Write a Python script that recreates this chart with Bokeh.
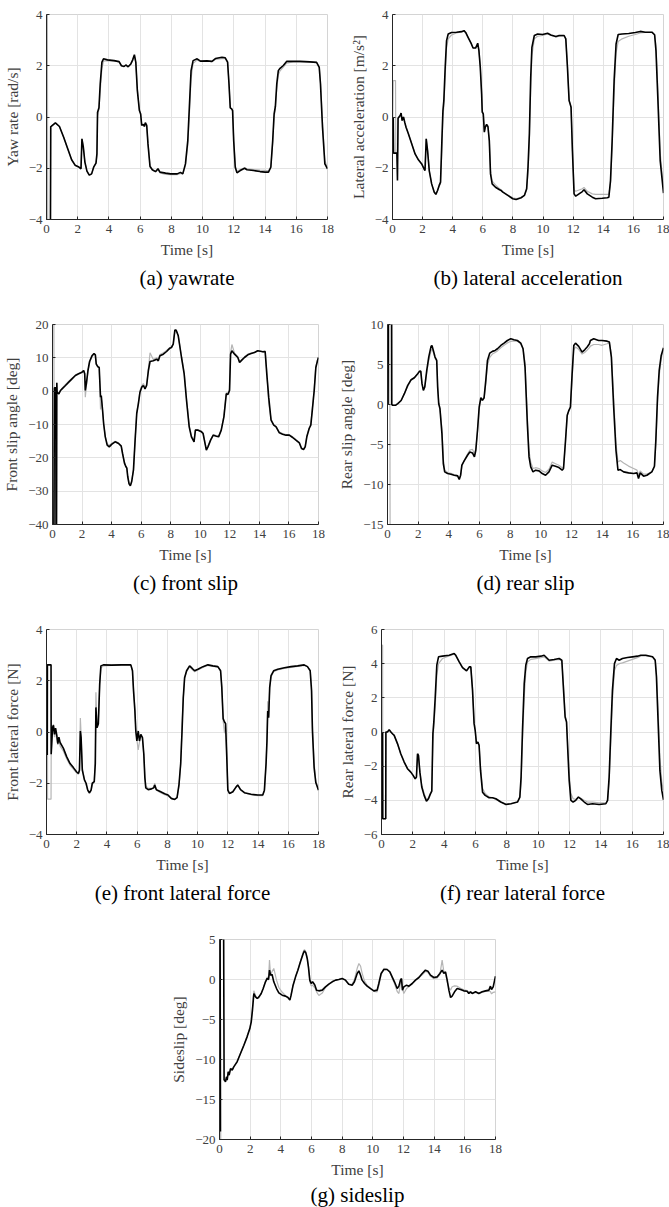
from bokeh.plotting import figure
from bokeh.layouts import column, row
from bokeh.models import Title, Range1d
from bokeh.embed import file_html
from bokeh.resources import INLINE

nan = float("nan")

TIME_TICKS = [0, 2, 4, 6, 8, 10, 12, 14, 16, 18]

# ---------------- (a) yaw rate [rad/s] ----------------
YAW_T = [0.0, 0.05, 0.08, 0.25, 0.27,
         0.30, 0.57, 0.83, 1.10, 1.36, 1.61, 1.83, 2.04, 2.21, 2.27,
         2.36, 2.46, 2.59, 2.74, 2.89, 3.02, 3.17, 3.23, 3.27, 3.36,
         3.44, 3.55, 3.65, 3.91, 4.33, 4.65, 4.80, 4.97, 5.08, 5.23,
         5.40, 5.52, 5.63, 5.72, 5.82, 5.95, 6.03, 6.10, 6.20, 6.27,
         6.33, 6.42, 6.50, 6.63, 6.78, 6.99, 7.14, 7.27, 7.63, 7.95,
         8.37, 8.58, 8.73, 8.90, 9.05, 9.16, 9.26, 9.39, 9.65, 9.86,
         10.28, 10.60, 10.82, 11.24, 11.45, 11.60, 11.69, 11.77, 11.86, 11.92,
         11.99, 12.09, 12.20, 12.41, 12.69, 12.84, 13.26, 13.68, 14.00, 14.22,
         14.37, 14.49, 14.58, 14.66, 14.75, 14.85, 14.96, 15.17, 15.38, 15.81,
         16.23, 16.87, 17.30, 17.47, 17.55, 17.68, 17.83, 18.0]
YAW_EST = [nan, nan, nan, -5.0, -0.37,
           -0.37, -0.23, -0.37, -0.79, -1.24, -1.67, -1.88, -1.94, -2.02, -0.85,
           -1.18, -1.76, -2.11, -2.27, -2.22, -1.96, -1.80, -1.44, 0.19, 0.36,
           1.29, 2.14, 2.27, 2.23, 2.20, 2.16, 2.00, 1.97, 2.03, 1.96,
           2.07, 2.23, 2.43, 2.14, 1.03, 0.25, 0.12, -0.33, -0.29, -0.37,
           -0.22, -0.33, -1.05, -1.93, -2.06, -2.13, -2.02, -2.15, -2.19, -2.22,
           -2.22, -2.16, -2.22, -1.83, -0.92, 0.51, 1.81, 2.20, 2.27, 2.18,
           2.19, 2.17, 2.28, 2.33, 2.31, 2.14, 1.29, 0.36, 0.32, 0.25,
           -0.92, -1.96, -2.18, -2.09, -2.00, -2.06, -2.09, -2.13, -2.15, -2.15,
           -1.96, -0.92, 0.12, 0.41, 1.29, 1.81, 1.90, 2.01, 2.17, 2.17,
           2.17, 2.15, 2.13, 1.94, 1.29, -0.40, -1.83, -2.02]
YAW_REF = [nan, 5.0, -5.0, -5.0, -0.37,
           -0.37, -0.23, -0.37, -0.79, -1.24, -1.67, -1.88, -1.94, -2.02, -0.85,
           -1.18, -1.76, -2.11, -2.27, -2.22, -1.96, -1.80, -1.50, 0.05, 0.30,
           1.00, 1.90, 2.18, 2.20, 2.18, 2.15, 2.00, 1.97, 2.02, 1.97,
           2.06, 2.20, 2.38, 2.12, 1.10, 0.30, 0.12, -0.30, -0.30, -0.37,
           -0.25, -0.35, -1.00, -1.88, -2.08, -2.15, -2.06, -2.18, -2.24, -2.25,
           -2.25, -2.20, -2.22, -1.90, -1.10, 0.20, 1.50, 2.10, 2.22, 2.17,
           2.18, 2.16, 2.25, 2.28, 2.28, 2.14, 1.35, 0.36, 0.32, 0.25,
           -0.85, -1.90, -2.12, -2.05, -1.98, -2.02, -2.05, -2.07, -2.08, -2.10,
           -1.95, -1.00, 0.00, 0.30, 1.10, 1.65, 1.80, 1.95, 2.10, 2.15,
           2.16, 2.15, 2.13, 1.96, 1.40, -0.20, -1.70, -2.00]

# ---------------- (b) lateral acceleration [m/s^2] ----------------
ACC_T = [0.02, 0.05, 0.07, 0.20, 0.22, 0.29, 0.33, 0.37,
         0.51, 0.57, 0.64, 0.73, 0.81, 0.90, 1.06, 1.28, 1.50, 1.72,
         1.94, 2.09, 2.16, 2.24, 2.33, 2.44, 2.60, 2.77, 2.88, 2.99,
         3.10, 3.19, 3.28, 3.35, 3.41, 3.50, 3.59, 3.70, 3.92, 4.25,
         4.58, 4.75, 4.86, 5.02, 5.24, 5.35, 5.52, 5.66, 5.74, 5.83,
         5.92, 5.96, 6.03, 6.10, 6.16, 6.25, 6.34, 6.43, 6.51, 6.62,
         6.84, 7.11, 7.22, 7.33, 7.66, 7.99, 8.21, 8.54, 8.76, 8.91,
         9.00, 9.09, 9.18, 9.26, 9.42, 9.64, 9.97, 10.30, 10.52, 10.85,
         11.07, 11.40, 11.51, 11.62, 11.73, 11.80, 11.86, 11.95, 12.06, 12.17,
         12.39, 12.61, 12.72, 12.94, 13.27, 13.49, 13.93, 14.26, 14.37, 14.48,
         14.59, 14.72, 14.85, 14.99, 15.25, 15.69, 16.13, 16.46, 16.79, 17.23,
         17.41, 17.50, 17.63, 17.78, 18.00]
ACC_EST = [nan, 0.0, -1.41, -1.41, -1.41, -1.41, -2.48, -0.05,
           0.06, 0.15, -0.14, 0.0, -0.2, -0.4, -0.66, -1.05, -1.44, -1.67,
           -1.83, -2.02, -2.09, -0.85, -1.31, -2.09, -2.61, -2.93, -3.02, -2.87,
           -2.67, -2.54, -0.92, 0.25, 0.64, 1.94, 2.98, 3.24, 3.30, 3.31,
           3.33, 3.37, 3.30, 3.11, 2.85, 2.69, 2.69, 2.88, 2.59, 1.94,
           0.90, 0.19, 0.12, -0.59, -0.40, -0.29, -0.37, -0.92, -2.22, -2.61,
           -2.74, -2.84, -2.87, -2.93, -3.06, -3.19, -3.22, -3.15, -3.06, -2.80,
           -1.96, -0.66, 1.55, 2.72, 3.18, 3.24, 3.22, 3.27, 3.20, 3.14,
           3.18, 3.18, 3.05, 1.94, 0.64, 0.51, 0.38, -1.31, -3.00, -3.09,
           -3.00, -2.91, -2.84, -3.00, -3.13, -3.19, -3.17, -3.15, -3.13, -2.48,
           -0.92, 1.42, 2.85, 3.22, 3.24, 3.26, 3.30, 3.34, 3.31, 3.31,
           3.21, 2.59, 0.64, -1.70, -2.97]
ACC_REF = [0.0, 1.42, 1.42, 1.42, -1.41, -1.41, -1.41, -0.05,
           0.06, 0.15, -0.14, 0.0, -0.2, -0.4, -0.66, -1.05, -1.44, -1.67,
           -1.83, -2.02, -2.09, -0.85, -1.31, -2.09, -2.61, -2.95, -3.02, -2.90,
           -2.70, -2.60, -1.30, 0.00, 0.40, 1.60, 2.70, 3.05, 3.20, 3.28,
           3.32, 3.35, 3.30, 3.10, 2.85, 2.70, 2.70, 2.85, 2.60, 2.00,
           1.00, 0.25, 0.15, -0.55, -0.40, -0.30, -0.40, -0.90, -2.10, -2.50,
           -2.65, -2.80, -2.85, -2.92, -3.05, -3.15, -3.18, -3.15, -3.06, -2.85,
           -2.20, -1.00, 1.10, 2.40, 3.05, 3.15, 3.18, 3.24, 3.18, 3.12,
           3.15, 3.16, 3.05, 2.00, 0.64, 0.51, 0.38, -1.20, -2.85, -2.90,
           -2.85, -2.80, -2.75, -2.90, -3.00, -3.02, -3.02, -3.02, -3.02, -2.60,
           -1.20, 1.00, 2.50, 2.95, 3.05, 3.15, 3.22, 3.28, 3.30, 3.30,
           3.20, 2.80, 1.00, -1.40, -2.80]

# ---------------- (c) front slip angle [deg] ----------------
FSLIP_T = [0.05, 0.09, 0.13, 0.22, 0.24, 0.27, 0.29,
           0.31, 0.43, 0.54, 0.65, 0.88, 1.10, 1.32, 1.55, 1.77, 2.00,
           2.11, 2.18, 2.22, 2.29, 2.40, 2.51, 2.67, 2.81, 2.90, 2.96,
           3.07, 3.16, 3.25, 3.30, 3.39, 3.46, 3.57, 3.70, 3.84, 4.02,
           4.24, 4.47, 4.65, 4.74, 4.87, 4.96, 5.03, 5.09, 5.18, 5.27,
           5.36, 5.48, 5.59, 5.70, 5.81, 5.92, 6.04, 6.15, 6.26, 6.37,
           6.49, 6.60, 6.82, 7.05, 7.16, 7.27, 7.50, 7.72, 7.94, 8.05,
           8.17, 8.28, 8.37, 8.51, 8.73, 8.91, 9.07, 9.25, 9.40, 9.58,
           9.67, 9.85, 10.08, 10.19, 10.30, 10.41, 10.52, 10.70, 10.88, 11.09,
           11.24, 11.42, 11.60, 11.76, 11.87, 11.98, 12.05, 12.14, 12.32, 12.54,
           12.66, 12.81, 12.99, 13.22, 13.44, 13.67, 13.89, 14.23, 14.39, 14.50,
           14.63, 14.79, 14.97, 15.13, 15.35, 15.57, 15.80, 16.02, 16.25, 16.47,
           16.70, 16.85, 16.99, 17.10, 17.21, 17.37, 17.48, 17.59, 17.71, 17.82,
           17.93, 18.00]
FSLIP_EST = [nan, -45.0, 1.0, 1.0, -45.0, -45.0, 2.5,
             -0.3, -0.8, 0.2, 0.7, 1.7, 2.7, 3.7, 4.7, 5.2, 5.7,
             6.2, 5.2, 0.2, 2.2, 6.2, 8.9, 10.6, 11.3, 10.9, 8.1,
             7.3, 7.1, -1.8, -1.3, -5.8, -9.7, -13.7, -16.2, -16.7, -15.9,
             -15.2, -15.7, -16.5, -18.7, -21.6, -22.6, -23.1, -25.6, -27.8, -28.4,
             -27.1, -23.6, -14.7, -6.7, -3.8, -0.3, 1.2, 1.7, 0.7, 1.7,
             6.2, 8.9, 9.1, 9.6, 9.1, 10.6, 11.1, 11.9, 12.9, 13.1,
             14.1, 18.3, 18.3, 16.6, 10.1, 5.2, -2.8, -10.7, -13.7, -15.2,
             -11.7, -11.7, -12.2, -12.7, -15.2, -17.7, -16.7, -14.7, -13.2, -13.5,
             -13.7, -11.7, -7.7, -0.8, -1.0, 0.2, 11.1, 12.1, 11.1, 10.1,
             8.6, 9.3, 10.1, 10.9, 11.3, 11.6, 12.1, 11.8, 11.9, 5.2,
             -1.8, -8.7, -10.2, -10.7, -12.5, -12.9, -13.2, -13.2, -13.9, -14.7,
             -15.5, -17.2, -17.5, -16.7, -13.7, -11.2, -10.2, -5.3, 0.2, 7.1,
             9.1, 10.1]
FSLIP_REF = [nan, 25.0, -45.0, -45.0, -45.0, -45.0, 2.5,
             -0.3, -0.8, 0.2, 0.9, 2.0, 3.0, 3.9, 4.9, 5.3, 5.8,
             6.2, 5.2, -1.8, 1.5, 6.0, 8.7, 10.3, 11.1, 10.8, 8.3,
             7.5, 7.2, -5.5, -2.0, -6.0, -9.7, -13.5, -15.8, -16.2, -15.6,
             -15.0, -15.5, -16.3, -18.5, -21.4, -22.4, -23.0, -25.4, -27.6, -28.2,
             -27.0, -23.5, -14.8, -6.5, -3.4, 0.2, 1.6, 2.3, 1.2, 2.0,
             6.8, 11.5, 9.5, 10.0, 9.6, 11.0, 11.5, 12.2, 13.1, 13.3,
             14.2, 18.0, 18.2, 16.6, 10.4, 5.6, -2.2, -10.2, -13.4, -14.8,
             -11.5, -11.6, -12.0, -12.5, -15.0, -17.4, -16.5, -14.5, -13.0, -13.3,
             -13.5, -11.5, -7.3, -0.5, -0.6, 0.5, 11.5, 14.0, 11.4, 10.4,
             8.9, 9.5, 10.3, 11.1, 11.4, 11.7, 12.2, 11.9, 12.0, 6.0,
             -3.5, -8.4, -10.0, -10.5, -12.3, -12.7, -13.0, -13.1, -13.7, -14.5,
             -15.3, -17.0, -17.3, -16.5, -13.5, -11.0, -10.0, -4.8, 0.8, 7.5,
             9.4, 10.3]

# ---------------- (d) rear slip angle [deg] ----------------
RSLIP_T = [0.02, 0.04, 0.05, 0.15, 0.17, 0.27, 0.28,
           0.35, 0.52, 0.67, 0.89, 1.10, 1.32, 1.54, 1.75, 1.97, 2.08,
           2.17, 2.25, 2.34, 2.43, 2.56, 2.69, 2.84, 2.90, 2.99, 3.10,
           3.21, 3.27, 3.34, 3.42, 3.55, 3.64, 3.73, 3.92, 4.14, 4.35,
           4.57, 4.68, 4.77, 4.85, 5.00, 5.22, 5.37, 5.54, 5.67, 5.76,
           5.87, 5.98, 6.09, 6.19, 6.30, 6.41, 6.52, 6.67, 6.84, 7.02,
           7.17, 7.39, 7.60, 7.82, 8.04, 8.25, 8.47, 8.69, 8.84, 8.97,
           9.12, 9.23, 9.34, 9.49, 9.66, 9.88, 10.09, 10.31, 10.53, 10.74,
           10.96, 11.18, 11.39, 11.48, 11.61, 11.72, 11.83, 11.93, 12.04, 12.15,
           12.26, 12.47, 12.69, 12.86, 13.02, 13.17, 13.23, 13.45, 13.77, 13.99,
           14.32, 14.47, 14.60, 14.75, 14.90, 15.03, 15.18, 15.40, 15.72, 16.05,
           16.27, 16.37, 16.48, 16.70, 16.92, 17.24, 17.41, 17.50, 17.61, 17.72,
           17.85, 18.00]
RSLIP_EST = [nan, 0.0, 12.0, 12.0, 12.0, 12.0, 0.0,
             -0.1, -0.1, 0.1, 0.5, 1.35, 2.39, 3.1, 3.35, 3.85, 4.14,
             4.18, 2.6, 1.77, 2.18, 4.26, 5.93, 7.26, 7.38, 6.76, 5.93,
             5.51, 2.18, 0.1, -0.52, -3.64, -7.38, -8.42, -8.63, -8.71, -8.84,
             -8.92, -9.38, -8.84, -7.59, -7.05, -6.34, -5.93, -6.05, -6.55, -5.72,
             -3.22, -0.31, 0.85, 0.52, 0.85, 3.02, 5.51, 6.43, 6.64, 6.76,
             6.97, 7.38, 7.67, 8.0, 8.21, 8.09, 8.0, 7.67, 6.97, 4.68,
             -2.39, -6.55, -7.8, -8.42, -8.21, -8.3, -8.63, -8.84, -8.42, -7.59,
             -7.72, -7.88, -8.21, -8.0, -4.47, -1.35, -0.73, -0.31, 3.85, 7.38,
             7.67, 7.26, 6.55, 6.84, 7.18, 7.59, 8.0, 8.21, 8.0, 8.0,
             7.92, 7.8, 5.93, -0.31, -5.72, -8.21, -8.13, -8.42, -8.55, -8.63,
             -8.55, -9.26, -8.55, -8.96, -8.84, -8.42, -7.72, -4.47, 0.94, 4.26,
             6.14, 7.09]
RSLIP_REF = [nan, nan, nan, 12.0, -17.0, nan, 0.0,
             -0.1, -0.1, 0.1, 0.5, 1.35, 2.3, 3.0, 3.3, 3.8, 4.1,
             4.1, 2.6, 1.8, 2.2, 4.0, 5.5, 6.7, 6.9, 6.5, 5.8,
             5.4, 2.5, 0.3, -0.4, -3.0, -6.8, -8.2, -8.5, -8.6, -8.75,
             -8.85, -9.2, -8.8, -7.7, -7.0, -6.2, -5.7, -5.6, -6.2, -5.5,
             -3.4, -0.6, 0.7, 0.5, 0.8, 2.6, 4.9, 5.9, 6.3, 6.5,
             6.7, 7.1, 7.4, 7.7, 7.9, 7.95, 7.9, 7.6, 7.0, 5.2,
             -1.5, -5.8, -7.2, -8.0, -7.9, -8.0, -8.3, -8.5, -8.1, -7.2,
             -7.4, -7.6, -7.9, -7.8, -4.8, -1.5, -0.8, -0.4, 3.2, 6.8,
             7.2, 6.9, 6.3, 6.5, 6.8, 7.1, 7.3, 7.5, 7.5, 7.4,
             7.6, 7.7, 6.4, 0.8, -4.8, -7.2, -7.0, -7.3, -7.7, -8.0,
             -8.2, -8.8, -8.3, -8.7, -8.7, -8.4, -7.8, -5.0, 0.2, 3.6,
             5.7, 6.9]

# ---------------- (e) front lateral force [N] ----------------
FFORCE_T = [0.02, 0.05, 0.06, 0.07, 0.30, 0.31,
            0.40, 0.46, 0.53, 0.60, 0.68, 0.75, 0.82, 0.90, 1.12, 1.34,
            1.56, 1.78, 2.00, 2.11, 2.18, 2.24, 2.29, 2.37, 2.51, 2.62,
            2.73, 2.84, 2.95, 3.03, 3.16, 3.23, 3.27, 3.34, 3.43, 3.52,
            3.60, 3.76, 4.31, 4.97, 5.58, 5.69, 5.76, 5.85, 5.91, 5.98,
            6.07, 6.15, 6.24, 6.35, 6.44, 6.51, 6.57, 6.73, 6.95, 7.10,
            7.16, 7.27, 7.49, 7.82, 8.04, 8.26, 8.48, 8.64, 8.77, 8.88,
            8.97, 9.05, 9.14, 9.27, 9.47, 9.63, 9.80, 10.02, 10.35, 10.68,
            11.01, 11.34, 11.52, 11.60, 11.69, 11.78, 11.85, 11.93, 12.00, 12.11,
            12.33, 12.55, 12.66, 12.84, 13.10, 13.54, 13.98, 14.31, 14.42, 14.53,
            14.59, 14.64, 14.70, 14.77, 14.86, 15.03, 15.30, 15.74, 16.18, 16.62,
            17.05, 17.27, 17.45, 17.54, 17.60, 17.71, 17.82, 18.00]
FFORCE_EST = [nan, -0.9, 2.62, 2.62, 2.62, -0.87,
              0.17, 0.26, -0.09, 0.15, -0.12, -0.45, -0.2, -0.41, -0.64, -0.97,
              -1.23, -1.39, -1.56, -1.62, -1.49, 0.04, -0.22, -1.49, -1.87, -2.0,
              -2.27, -2.37, -2.27, -2.0, -1.94, -1.23, 0.96, 0.17, 0.31, 1.87,
              2.58, 2.62, 2.61, 2.62, 2.62, 2.39, 1.6, 0.82, 0.04, -0.35,
              0.04, -0.35, -0.09, -0.22, -0.87, -1.79, -2.18, -2.25, -2.22, -2.18,
              -2.07, -2.25, -2.31, -2.41, -2.46, -2.59, -2.63, -2.56, -2.04, -1.23,
              0.04, 1.33, 2.12, 2.39, 2.58, 2.49, 2.39, 2.45, 2.55, 2.62,
              2.58, 2.55, 2.39, 1.74, 0.52, 0.39, 0.33, -0.97, -2.27, -2.4,
              -2.33, -2.14, -2.07, -2.25, -2.37, -2.43, -2.46, -2.46, -2.27, -1.23,
              -0.35, 0.82, 0.56, 1.74, 2.2, 2.39, 2.45, 2.51, 2.55, 2.58,
              2.62, 2.55, 2.39, 1.6, 0.04, -1.39, -1.97, -2.27]
FFORCE_REF = [nan, 2.62, 2.62, -2.62, -2.62, -0.87,
              0.17, 0.3, -0.2, 0.1, -0.3, -0.5, -0.3, -0.55, -0.75, -1.05,
              -1.3, -1.45, -1.6, -1.65, -1.5, 0.55, -0.1, -1.4, -1.85, -2.05,
              -2.3, -2.4, -2.3, -2.05, -1.95, -1.0, 1.55, 0.3, 0.4, 1.8,
              2.5, 2.58, 2.6, 2.62, 2.62, 2.4, 1.7, 0.9, 0.1, -0.3,
              -0.7, -0.4, -0.1, -0.25, -0.9, -1.7, -2.1, -2.2, -2.2, -2.15,
              -2.0, -2.25, -2.35, -2.45, -2.5, -2.6, -2.63, -2.56, -2.1, -1.3,
              0.3, 1.3, 2.1, 2.35, 2.55, 2.45, 2.35, 2.42, 2.52, 2.6,
              2.56, 2.53, 2.4, 1.8, 0.45, -0.05, 0.3, -0.9, -2.2, -2.4,
              -2.35, -2.15, -2.05, -2.25, -2.38, -2.45, -2.48, -2.48, -2.3, -1.3,
              -0.2, 1.2, 0.6, 1.7, 2.15, 2.35, 2.42, 2.48, 2.52, 2.56,
              2.6, 2.55, 2.4, 1.8, 0.2, -1.2, -1.9, -2.25]

# ---------------- (f) rear lateral force [N] ----------------
RFORCE_T = [0.03, 0.05, 0.07, 0.08, 0.27, 0.28,
            0.38, 0.49, 0.60, 0.70, 0.81, 1.02, 1.23, 1.45, 1.66, 1.87,
            2.02, 2.15, 2.23, 2.30, 2.36, 2.45, 2.57, 2.72, 2.87, 3.00,
            3.11, 3.21, 3.28, 3.34, 3.43, 3.53, 3.64, 3.89, 4.32, 4.64,
            4.74, 4.96, 5.17, 5.43, 5.60, 5.70, 5.81, 5.91, 5.98, 6.06,
            6.15, 6.23, 6.32, 6.45, 6.62, 6.87, 7.09, 7.30, 7.62, 7.94,
            8.26, 8.68, 8.83, 8.91, 9.00, 9.11, 9.21, 9.32, 9.53, 9.85,
            10.17, 10.38, 10.70, 11.02, 11.34, 11.51, 11.62, 11.72, 11.81, 11.89,
            11.98, 12.09, 12.23, 12.40, 12.57, 12.72, 12.94, 13.15, 13.47, 13.89,
            14.32, 14.43, 14.53, 14.64, 14.74, 14.87, 15.00, 15.17, 15.38, 15.70,
            16.02, 16.34, 16.55, 16.87, 17.30, 17.47, 17.55, 17.66, 17.77, 17.89,
            18.00]
RFORCE_EST = [nan, nan, 0.0, -5.08, -5.08, 0.0,
              0.0, 0.14, 0.0, -0.1, -0.2, -0.68, -1.27, -1.76, -2.15, -2.35,
              -2.54, -2.74, -2.64, -1.27, -1.37, -2.35, -3.22, -3.71, -4.05, -3.91,
              -3.65, -3.46, -0.1, 0.59, 2.05, 3.91, 4.4, 4.44, 4.49, 4.59,
              4.49, 4.1, 3.77, 3.58, 3.81, 3.81, 2.44, 0.49, 0.1, -0.68,
              -0.59, -0.78, -2.25, -3.52, -3.71, -3.85, -3.85, -3.91, -4.1, -4.24,
              -4.2, -4.1, -3.81, -2.64, 0.1, 2.83, 3.91, 4.3, 4.4, 4.4,
              4.44, 4.49, 4.2, 4.24, 4.3, 4.2, 2.44, 0.88, 0.59, -1.07,
              -2.83, -4.0, -4.1, -4.0, -3.81, -3.91, -4.1, -4.24, -4.2, -4.24,
              -4.2, -4.0, -2.64, 0.1, 2.44, 4.0, 4.3, 4.2, 4.3, 4.36,
              4.4, 4.44, 4.49, 4.49, 4.4, 4.2, 3.22, 0.49, -2.25, -3.42,
              -3.97]
RFORCE_REF = [0.0, 5.08, 5.08, -5.08, -5.08, 0.0,
              0.0, 0.1, 0.0, -0.1, -0.2, -0.7, -1.3, -1.8, -2.15, -2.35,
              -2.55, -2.74, -2.64, -1.3, -1.4, -2.3, -3.1, -3.6, -3.95, -3.85,
              -3.6, -3.45, -0.6, 0.3, 1.5, 3.3, 4.0, 4.3, 4.45, 4.55,
              4.5, 4.1, 3.8, 3.6, 3.75, 3.8, 2.6, 0.6, 0.1, -0.65,
              -0.6, -0.8, -2.0, -3.3, -3.6, -3.8, -3.85, -3.95, -4.12, -4.2,
              -4.2, -4.1, -3.85, -3.0, -0.5, 2.0, 3.5, 4.1, 4.25, 4.3,
              4.35, 4.4, 4.15, 4.2, 4.25, 4.2, 2.7, 1.0, 0.6, -0.8,
              -2.4, -3.6, -3.9, -3.95, -3.8, -3.88, -4.0, -4.1, -4.1, -4.15,
              -4.15, -4.05, -3.0, -0.5, 1.8, 3.6, 3.9, 4.0, 4.05, 4.15,
              4.25, 4.35, 4.45, 4.45, 4.4, 4.25, 3.5, 1.2, -1.5, -2.9,
              -3.4]

# ---------------- (g) sideslip [deg] ----------------
SIDESLIP_T = [0.02, 0.04, 0.06, 0.08, 0.27, 0.30,
              0.33, 0.39, 0.46, 0.50, 0.57, 0.63, 0.72, 0.83, 0.93, 1.15,
              1.37, 1.59, 1.80, 1.98, 2.07, 2.15, 2.24, 2.35, 2.46, 2.57,
              2.72, 2.85, 3.00, 3.11, 3.20, 3.26, 3.33, 3.43, 3.54, 3.72,
              3.87, 4.09, 4.30, 4.46, 4.59, 4.67, 4.80, 4.96, 5.11, 5.28,
              5.46, 5.54, 5.63, 5.72, 5.80, 5.89, 5.98, 6.07, 6.15, 6.22,
              6.33, 6.48, 6.70, 6.91, 7.13, 7.35, 7.57, 7.78, 8.00, 8.22,
              8.43, 8.65, 8.80, 8.98, 9.09, 9.20, 9.30, 9.46, 9.63, 9.85,
              10.07, 10.28, 10.39, 10.54, 10.72, 10.93, 11.11, 11.26, 11.41, 11.59,
              11.70, 11.80, 11.87, 11.93, 12.02, 12.20, 12.35, 12.57, 12.78, 13.00,
              13.22, 13.43, 13.59, 13.76, 13.98, 14.20, 14.37, 14.52, 14.63, 14.74,
              14.85, 14.96, 15.07, 15.17, 15.33, 15.50, 15.72, 15.93, 16.15, 16.26,
              16.37, 16.48, 16.70, 16.91, 17.13, 17.35, 17.57, 17.67, 17.74, 17.85,
              18.00]
SIDESLIP_EST = [nan, 6.0, -19.0, nan, 6.0, -12.6,
                -12.58, -12.79, -12.17, -12.58, -11.54, -11.96, -11.13, -11.33, -10.92, -10.29,
                -9.25, -8.21, -7.17, -6.13, -5.29, -3.83, -1.75, -2.17, -2.38, -2.17,
                -1.75, -1.13, -0.29, 0.13, 0.0, 1.17, 0.54, 0.63, -0.29, -1.13,
                -1.67, -1.96, -2.08, -2.25, -2.58, -1.96, -0.71, 0.33, 1.17, 2.21,
                3.25, 3.58, 3.33, 2.63, 1.58, -0.08, -0.5, -0.29, -0.5, -0.71,
                -1.33, -1.42, -1.33, -0.92, -0.58, -0.29, -0.08, 0.0, 0.13, -0.08,
                -0.58, -0.71, -0.29, 0.75, 1.08, 0.54, -0.08, -0.5, -0.83, -1.13,
                -1.42, -1.33, -0.5, 0.75, 1.25, 1.25, 0.96, 0.33, -0.29, -1.13,
                -0.83, -0.08, 0.13, -1.33, -0.92, -0.71, -0.83, -0.5, -0.08, 0.25,
                0.75, 1.17, 1.04, 0.54, 0.25, 0.33, 0.75, 1.17, 0.75, 0.96,
                -0.08, -1.33, -2.25, -2.08, -1.54, -1.13, -1.25, -1.42, -1.46, -1.75,
                -1.54, -1.75, -1.54, -1.75, -1.54, -1.42, -1.33, -0.83, -1.25, -0.92,
                0.42]
SIDESLIP_REF = [nan, nan, 6.0, -21.0, nan, -12.6,
                -12.5, -12.7, -12.1, -12.4, -11.5, -11.8, -11.1, -11.2, -10.9, -10.2,
                -9.2, -8.2, -7.1, -6.0, -5.2, -3.5, -1.4, -2.0, -2.4, -2.3,
                -1.8, -1.1, -0.2, 0.3, 0.2, 2.42, 0.6, 1.0, 1.38, -0.08,
                -1.0, -1.6, -2.0, -2.2, -2.5, -1.9, -0.7, 0.3, 1.2, 2.3,
                3.46, 3.75, 3.5, 2.8, 1.6, -0.3, -0.8, -0.7, -0.9, -1.0,
                -1.54, -2.0, -1.7, -1.0, -0.6, -0.3, -0.1, 0.0, 0.1, -0.1,
                -0.6, -0.6, 0.0, 1.4, 2.0, 1.67, 0.8, -0.2, -0.7, -1.1,
                -1.5, -1.54, -0.8, 0.6, 1.38, 1.3, 0.9, 0.2, -0.5, -1.5,
                -1.75, -0.5, 0.0, -1.0, -1.75, -1.13, -0.9, -0.5, -0.1, 0.2,
                0.6, 1.0, 0.9, 0.4, 0.1, 0.2, 0.6, 2.42, 1.0, 0.8,
                -0.3, -1.0, -1.33, -0.9, -0.8, -0.83, -1.1, -1.3, -1.4, -1.6,
                -1.5, -1.7, -1.6, -1.7, -1.6, -1.5, -1.5, -1.5, -1.8, -1.6,
                -1.54]

SERIF = "Liberation Serif"
AXIS_INK = "#262626"
LABEL_INK = "#404040"
GRID_INK = "#e3e3e3"
BOX_INK = "#d4d4d4"
REF_COLOR = "#b5b5b5"
EST_COLOR = "#000000"


def panel(t, ref, est, y_lo, y_hi, y_ticks, y_label, caption,
          width, height, left, right, top, bottom, caption_gap=7):
    assert len(t) == len(ref) == len(est), caption
    p = figure(width=width, height=height,
               x_range=Range1d(0, 18), y_range=Range1d(y_lo, y_hi),
               output_backend="svg", toolbar_location=None,
               min_border_left=left, min_border_right=right,
               min_border_top=top, min_border_bottom=bottom)
    p.background_fill_color = "white"
    p.border_fill_color = "white"
    p.outline_line_color = BOX_INK
    p.outline_line_width = 1

    p.line(t, ref, color=REF_COLOR, line_width=1.2)
    p.line(t, est, color=EST_COLOR, line_width=1.6)

    p.xaxis.ticker = TIME_TICKS
    p.xgrid.ticker = TIME_TICKS
    p.yaxis.ticker = y_ticks
    p.ygrid.ticker = y_ticks
    for g in (p.xgrid, p.ygrid):
        g.grid_line_color = GRID_INK
        g.grid_line_width = 1

    for ax in (p.xaxis, p.yaxis):
        ax.axis_line_color = AXIS_INK
        ax.axis_line_width = 1
        ax.major_tick_line_color = AXIS_INK
        ax.major_tick_in = 3
        ax.major_tick_out = 0
        ax.minor_tick_line_color = None
        ax.major_label_text_font = SERIF
        ax.major_label_text_font_size = "13px"
        ax.major_label_text_color = LABEL_INK
        ax.axis_label_text_font = SERIF
        ax.axis_label_text_font_size = "15.5px"
        ax.axis_label_text_font_style = "normal"
        ax.axis_label_text_color = LABEL_INK

    p.xaxis.axis_label = "Time [s]"
    p.yaxis.axis_label = y_label
    p.xaxis.major_label_standoff = 5
    p.xaxis.axis_label_standoff = 5
    p.yaxis.major_label_standoff = 4
    p.yaxis.axis_label_standoff = 5

    p.add_layout(Title(text=caption, align="center", text_font=SERIF,
                       text_font_size="21px", text_font_style="normal",
                       text_color="black", standoff=caption_gap), "below")
    return p


pa = panel(YAW_T, YAW_REF, YAW_EST, -4, 4, [-4, -2, 0, 2, 4],
           "Yaw rate [rad/s]", "(a) yawrate", 335, 300, 46, 8, 14, 81)
pb = panel(ACC_T, ACC_REF, ACC_EST, -4, 4, [-4, -2, 0, 2, 4],
           "Lateral acceleration [m/s²]", "(b) lateral acceleration", 334, 300, 57, 6, 14, 81)
pc = panel(FSLIP_T, FSLIP_REF, FSLIP_EST, -40, 20, [-40, -30, -20, -10, 0, 10, 20],
           "Front slip angle [deg]", "(c) front slip", 335, 305, 51, 17, 23, 80)
pd = panel(RSLIP_T, RSLIP_REF, RSLIP_EST, -15, 10, [-15, -10, -5, 0, 5, 10],
           "Rear slip angle [deg]", "(d) rear slip", 334, 305, 52, 6, 24, 81)
pe = panel(FFORCE_T, FFORCE_REF, FFORCE_EST, -4, 4, [-4, -2, 0, 2, 4],
           "Front lateral force [N]", "(e) front lateral force", 335, 305, 44, 17, 24, 75)
pf = panel(RFORCE_T, RFORCE_REF, RFORCE_EST, -6, 6, [-6, -4, -2, 0, 2, 4, 6],
           "Rear lateral force [N]", "(f) rear lateral force", 334, 305, 46, 6, 24, 76)
pg = panel(SIDESLIP_T, SIDESLIP_REF, SIDESLIP_EST, -20, 5, [-20, -15, -10, -5, 0, 5],
           "Sideslip [deg]", "(g) sideslip", 669, 297, 219, 174, 29, 68, caption_gap=0)

page = column(row(pa, pb), row(pc, pd), row(pe, pf), row(pg))
open("out.html", "w").write(file_html(page, INLINE))
